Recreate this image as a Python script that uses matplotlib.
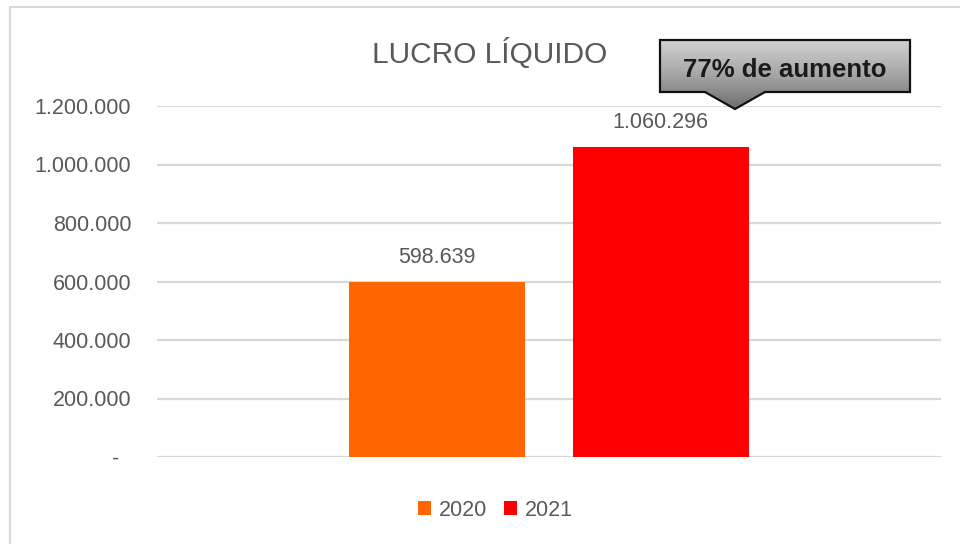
import matplotlib
matplotlib.use("Agg")
import matplotlib.pyplot as plt
import numpy as np
from matplotlib.colors import LinearSegmentedColormap
from matplotlib.patches import Polygon, Patch
from matplotlib.ticker import FuncFormatter
from matplotlib.transforms import blended_transform_factory

plt.rcParams["font.family"] = ["Liberation Sans", "DejaVu Sans"]

# data
years = ["2020", "2021"]
lucro = [598639, 1060296]
bar_colors = ["#FF6600", "#FF0000"]
y_ticks = [0, 200000, 400000, 600000, 800000, 1000000, 1200000]
title = "LUCRO LÍQUIDO"
callout_text = "77% de aumento"

GREY_TXT = "#595959"
GRID = "#D9D9D9"
W, H = 960, 544


def fmt_br(v):
    return f"{int(round(v)):,}".replace(",", ".")


fig = plt.figure(figsize=(W / 100, H / 100), dpi=100)
fig.patch.set_facecolor("white")

# plot area
ax = fig.add_axes([157 / W, 1 - 457 / H, (941 - 157) / W, (457 - 106) / H])
offsets = [-0.1425, 0.1425]
bars = ax.bar(offsets, lucro, width=0.2245, color=bar_colors, zorder=2)
ax.set_xlim(-0.5, 0.5)
ax.set_ylim(0, 1200000)
ax.set_yticks(y_ticks)
ax.yaxis.set_major_formatter(FuncFormatter(lambda v, p: fmt_br(v) if v > 0 else ""))
ax.tick_params(axis="y", length=0, pad=18.5, labelsize=15.5, labelcolor=GREY_TXT)
ax.set_xticks([])
ax.grid(axis="y", color=GRID, linewidth=1.6, zorder=0)
ax.set_axisbelow(True)
for s in ax.spines.values():
    s.set_visible(False)
ax.patch.set_alpha(0)

# zero label shown as dash (accounting format)
tr = blended_transform_factory(ax.transAxes, ax.transData)
ax.text(-(157 - 116) / 784, 0, "-", transform=tr, ha="center", va="center_baseline",
        fontsize=15.5, color=GREY_TXT)

# value labels
for b, v in zip(bars, lucro):
    ax.annotate(fmt_br(v), (b.get_x() + b.get_width() / 2, v),
                xytext=(0, 13.5), textcoords="offset points",
                ha="center", va="baseline", fontsize=15.5, color=GREY_TXT)

# title
fig.text(490 / W, 1 - 63 / H, title, ha="center", va="baseline",
         fontsize=21.5, color=GREY_TXT)

# legend
handles = [Patch(facecolor=c, edgecolor="none", label=y) for c, y in zip(bar_colors, years)]
fig.legend(handles=handles, loc="center", bbox_to_anchor=(495.5 / W, 1 - 510 / H),
           ncol=2, frameon=False, fontsize=15.5, labelcolor=GREY_TXT,
           handlelength=0.6, handleheight=0.6, handletextpad=0.35, columnspacing=0.8)

# overlay in pixel coordinates: chart border + callout
ov = fig.add_axes([0, 0, 1, 1])
ov.set_xlim(0, W)
ov.set_ylim(H, 0)
ov.axis("off")
ov.patch.set_alpha(0)
ov.plot([10, 10, W + 5], [H + 5, 7, 7], color=GRID, linewidth=1.5)

shape = [(660, 40), (910, 40), (910, 92), (765, 92), (735, 109), (705, 92), (660, 92)]
poly = Polygon(shape, closed=True, facecolor="none", edgecolor="#111111",
               linewidth=1.6, joinstyle="miter", zorder=4)
ov.add_patch(poly)
grad_cmap = LinearSegmentedColormap.from_list("g", ["#D2D2D2", "#A6A6A6", "#6E6E6E"])
grad = np.linspace(0, 1, 256).reshape(-1, 1)
im = ov.imshow(grad, cmap=grad_cmap, extent=[660, 910, 109, 40], aspect="auto",
               origin="upper", zorder=3)
clip = Polygon(shape, closed=True, transform=ov.transData)
im.set_clip_path(clip)
ov.set_xlim(0, W)
ov.set_ylim(H, 0)
ov.text(785, 77, callout_text, ha="center", va="baseline", fontsize=18.5,
        fontweight="bold", color="#1A1A1A", zorder=5)

fig.savefig("out.png", dpi=100)
